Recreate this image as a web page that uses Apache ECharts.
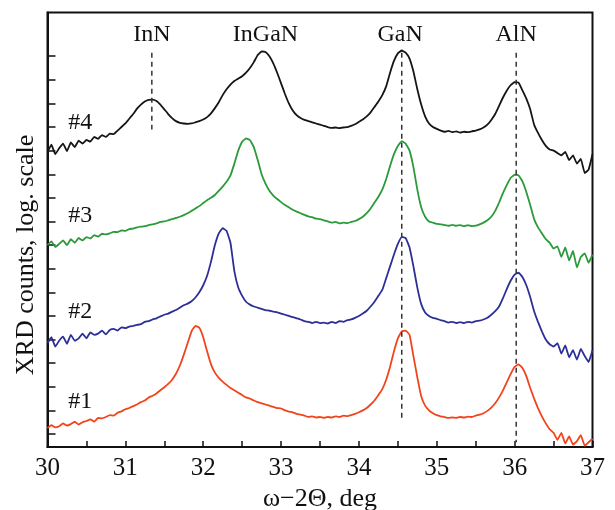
<!DOCTYPE html>
<html>
<head>
<meta charset="utf-8">
<script src="https://cdn.jsdelivr.net/npm/echarts@6/dist/echarts.min.js"></script>
<style>
html,body{margin:0;padding:0;background:#fff;}
#chart1{width:615px;height:510px;}
</style>
</head>
<body>
<div id="chart1"></div>
<script>
// omega-2theta, deg
var xDeg = [
30.00,30.05,30.10,30.15,30.20,30.25,30.30,30.35,30.40,30.45,
30.50,30.55,30.60,30.65,30.70,30.75,30.80,30.85,30.90,30.95,
31.00,31.05,31.10,31.15,31.20,31.25,31.30,31.35,31.40,31.45,
31.50,31.55,31.60,31.65,31.70,31.75,31.80,31.85,31.90,31.95,
32.00,32.05,32.10,32.15,32.20,32.25,32.30,32.35,32.40,32.45,
32.50,32.55,32.60,32.65,32.70,32.75,32.80,32.85,32.90,32.95,
33.00,33.05,33.10,33.15,33.20,33.25,33.30,33.35,33.40,33.45,
33.50,33.55,33.60,33.65,33.70,33.75,33.80,33.85,33.90,33.95,
34.00,34.05,34.10,34.15,34.20,34.25,34.30,34.35,34.40,34.45,
34.50,34.55,34.60,34.65,34.70,34.75,34.80,34.85,34.90,34.95,
35.00,35.05,35.10,35.15,35.20,35.25,35.30,35.35,35.40,35.45,
35.50,35.55,35.60,35.65,35.70,35.75,35.80,35.85,35.90,35.95,
36.00,36.05,36.10,36.15,36.20,36.25,36.30,36.35,36.40,36.45,
36.50,36.55,36.60,36.65,36.70,36.75,36.80,36.85,36.90,36.95,
37.00];

// log counts, shifted (one unit = one tick on the left axis)
var s1 = [
0.25,0.38,0.28,0.33,0.45,0.36,0.42,0.52,0.4,0.5,
0.55,0.62,0.52,0.68,0.66,0.72,0.8,0.78,0.9,0.96,
1.05,1.1,1.18,1.25,1.35,1.42,1.55,1.62,1.72,1.85,
1.98,2.12,2.3,2.55,2.9,3.35,3.85,4.35,4.58,4.5,
4.1,3.5,2.95,2.6,2.38,2.22,2.08,1.95,1.85,1.75,
1.65,1.55,1.5,1.42,1.35,1.3,1.25,1.2,1.15,1.1,
1.08,1.0,0.95,0.92,0.85,0.82,0.78,0.72,0.75,0.7,
0.72,0.68,0.72,0.7,0.75,0.72,0.78,0.76,0.8,0.85,
0.92,1.0,1.1,1.25,1.42,1.65,1.9,2.3,2.85,3.5,
4.05,4.35,4.38,4.2,3.3,2.4,1.6,1.2,1.0,0.88,
0.8,0.75,0.72,0.68,0.7,0.68,0.72,0.7,0.74,0.72,
0.78,0.82,0.88,0.98,1.12,1.3,1.55,1.85,2.2,2.55,
2.85,2.95,2.8,2.45,1.95,1.5,1.1,0.75,0.45,0.2,
0.05,-0.25,0.05,-0.4,-0.1,-0.45,-0.3,-0.05,-0.5,-0.35,
-0.2];

var s2 = [
3.85,4.1,3.7,3.95,4.12,3.82,4.2,3.95,4.05,4.25,
4.05,4.3,4.2,4.25,4.38,4.22,4.4,4.45,4.38,4.52,
4.48,4.55,4.58,4.62,4.65,4.75,4.78,4.85,4.9,4.98,
5.05,5.1,5.18,5.25,5.35,5.45,5.52,5.62,5.78,6.0,
6.3,6.7,7.3,8.0,8.5,8.72,8.6,8.1,6.9,6.2,
5.85,5.6,5.48,5.4,5.35,5.3,5.25,5.22,5.18,5.15,
5.1,5.05,5.0,4.95,4.9,4.85,4.78,4.75,4.7,4.75,
4.7,4.72,4.68,4.75,4.7,4.78,4.75,4.82,4.85,4.92,
5.0,5.1,5.22,5.4,5.6,5.85,6.1,6.6,7.1,7.6,
8.05,8.35,8.3,7.9,7.1,6.2,5.5,5.15,5.0,4.92,
4.88,4.82,4.78,4.72,4.75,4.7,4.74,4.7,4.75,4.72,
4.78,4.8,4.85,4.92,5.05,5.2,5.4,5.75,6.15,6.5,
6.75,6.83,6.65,6.3,5.8,5.2,4.75,4.35,4.0,3.8,
3.7,3.85,3.4,3.75,3.25,3.55,3.15,3.6,3.3,3.05,
3.55];

var s3 = [
8.0,8.16,7.92,8.05,8.2,8.0,8.25,8.1,8.3,8.2,
8.34,8.28,8.42,8.36,8.48,8.45,8.5,8.56,8.55,8.62,
8.6,8.68,8.7,8.75,8.78,8.8,8.85,8.88,8.92,8.98,
9.0,9.05,9.1,9.15,9.2,9.27,9.35,9.45,9.55,9.65,
9.78,9.9,10.0,10.12,10.3,10.48,10.68,10.95,11.45,12.0,
12.38,12.52,12.45,12.15,11.6,11.0,10.6,10.3,10.1,9.95,
9.82,9.7,9.6,9.5,9.42,9.35,9.28,9.22,9.18,9.12,
9.1,9.05,9.0,8.95,8.98,8.92,8.95,8.93,8.98,9.02,
9.1,9.2,9.35,9.55,9.8,10.05,10.35,10.8,11.35,11.85,
12.2,12.4,12.3,12.0,11.3,10.35,9.6,9.2,9.0,8.95,
8.9,8.88,8.85,8.82,8.86,8.82,8.85,8.8,8.84,8.8,
8.82,8.88,8.95,9.05,9.2,9.45,9.8,10.2,10.55,10.85,
10.98,10.95,10.7,10.25,9.7,9.1,8.75,8.5,8.25,8.1,
7.85,7.95,7.5,7.9,7.35,7.75,7.05,7.5,7.65,7.25,
7.6];

var s4 = [
11.95,12.25,11.85,12.1,12.3,11.98,12.35,12.15,12.42,12.3,
12.45,12.38,12.58,12.5,12.66,12.58,12.72,12.7,12.85,13.0,
13.15,13.35,13.55,13.78,13.95,14.08,14.15,14.16,14.1,13.95,
13.75,13.55,13.38,13.25,13.18,13.15,13.13,13.15,13.2,13.25,
13.32,13.42,13.58,13.8,14.05,14.35,14.6,14.8,14.95,15.05,
15.15,15.3,15.5,15.75,16.05,16.2,16.18,16.0,15.7,15.3,
14.85,14.4,14.0,13.7,13.5,13.38,13.3,13.25,13.2,13.15,
13.1,13.05,13.0,12.96,12.98,12.95,12.98,13.0,13.05,13.12,
13.22,13.32,13.45,13.62,13.85,14.08,14.35,14.72,15.3,15.8,
16.12,16.24,16.15,15.9,15.35,14.6,13.95,13.45,13.15,13.0,
12.92,12.85,12.8,12.84,12.78,12.82,12.76,12.8,12.78,12.82,
12.85,12.9,12.98,13.1,13.3,13.55,13.9,14.25,14.55,14.78,
14.9,14.88,14.55,14.2,13.75,13.1,12.75,12.45,12.2,12.05,
12.0,11.9,11.8,11.95,11.6,11.8,11.45,11.65,11.05,11.2,
11.85];

var sampleNames = ['#1', '#2', '#3', '#4'];
var sampleLabelX = [30.42, 30.42, 30.42, 30.42];
var sampleLabelY = [1.36, 5.17, 9.25, 13.19];
var sampleColors = ['#f2441c', '#2c2f96', '#2a9a3a', '#151515'];

var peakNames = ['InN', 'InGaN', 'GaN', 'AlN'];
var peakLabelX = [31.34, 32.80, 34.53, 36.02];
var peakLabelY = 16.92;

var dashX = [31.34, 34.55, 36.02];
var dashTop = [16.15, 16.15, 16.15];
var dashBottom = [12.9, 0.55, -0.35];

var xTicks = [30, 37, 1];
var yTicks = [0, 1, 2, 3, 4, 5, 6, 7, 8, 9, 10, 11, 12, 13, 14, 15, 16];

var FONT = '"Liberation Serif", "DejaVu Serif", serif';

function showChart()
{
    var Chart1 = echarts.init(document.getElementById('chart1'));
    var curves = [s1, s2, s3, s4];
    var series = [];

    for (var i = 0; i < curves.length; i++) {
        var pts = [];
        for (var k = 0; k < xDeg.length; k++) {
            pts.push([xDeg[k], curves[i][k]]);
        }
        series.push({
            name: sampleNames[i],
            type: 'line',
            data: pts,
            symbol: 'none',
            smooth: 0.1,
            lineStyle: {color: sampleColors[i], width: 1.8},
            z: 3
        });
    }

    // dashed peak positions
    for (var d = 0; d < dashX.length; d++) {
        series.push({
            type: 'line',
            data: [[dashX[d], dashTop[d]], [dashX[d], dashBottom[d]]],
            symbol: 'none',
            lineStyle: {color: '#333', width: 1.5, type: [5, 4]},
            z: 4
        });
    }

    var txt = [];
    for (var p = 0; p < peakNames.length; p++) {
        txt.push([peakLabelX[p], peakLabelY, peakNames[p]]);
    }
    for (var n = 0; n < sampleNames.length; n++) {
        txt.push([sampleLabelX[n], sampleLabelY[n], sampleNames[n]]);
    }
    series.push({
        type: 'scatter',
        data: txt,
        symbolSize: 0,
        silent: true,
        itemStyle: {opacity: 1},
        label: {
            show: true,
            position: 'inside',
            formatter: function (prm) { return prm.data[2]; },
            fontFamily: FONT,
            fontSize: 24,
            color: '#111',
            opacity: 1
        },
        z: 5
    });

    var option1 = {
        backgroundColor: '#fff',
        animation: false,
        grid: {
            left: 47.5, right: 22.5, top: 12.5, bottom: 63,
            containLabel: false,
            outerBoundsMode: 'none',
            show: true,
            borderColor: '#111',
            borderWidth: 2,
            backgroundColor: 'transparent'
        },
        xAxis: {
            type: 'value',
            min: xTicks[0],
            max: xTicks[1],
            interval: xTicks[2],
            name: 'ω−2Θ, deg',
            nameLocation: 'middle',
            nameGap: 38,
            nameTextStyle: {fontFamily: FONT, fontSize: 26, color: '#111'},
            axisLine: {show: true, onZero: false, lineStyle: {color: '#111', width: 2}},
            axisTick: {show: true, inside: true, length: 6, lineStyle: {color: '#111', width: 1.5}},
            minorTick: {show: true, splitNumber: 2, length: 6, lineStyle: {color: '#111', width: 1.5}},
            axisLabel: {
                showMinLabel: true, showMaxLabel: true, margin: 9,
                fontFamily: FONT, fontSize: 25, color: '#111'
            },
            splitLine: {show: false}
        },
        yAxis: {
            type: 'value',
            min: -0.55,
            max: 17.85,
            axisLine: {show: true, onZero: false, lineStyle: {color: '#111', width: 2}},
            axisTick: {show: true, inside: true, length: 8, customValues: yTicks,
                lineStyle: {color: '#111', width: 1.5}},
            axisLabel: {show: false},
            splitLine: {show: false}
        },
        graphic: [{
            type: 'text',
            x: 26,
            y: 255,
            rotation: Math.PI / 2,
            style: {
                text: 'XRD counts, log. scale',
                fontFamily: FONT,
                fontSize: 26,
                fill: '#111',
                textAlign: 'center',
                textVerticalAlign: 'middle'
            }
        }],
        series: series
    };

    Chart1.setOption(option1);

    window.onresize = function () {
        Chart1.resize();
    }
}

showChart();
</script>
</body>
</html>
